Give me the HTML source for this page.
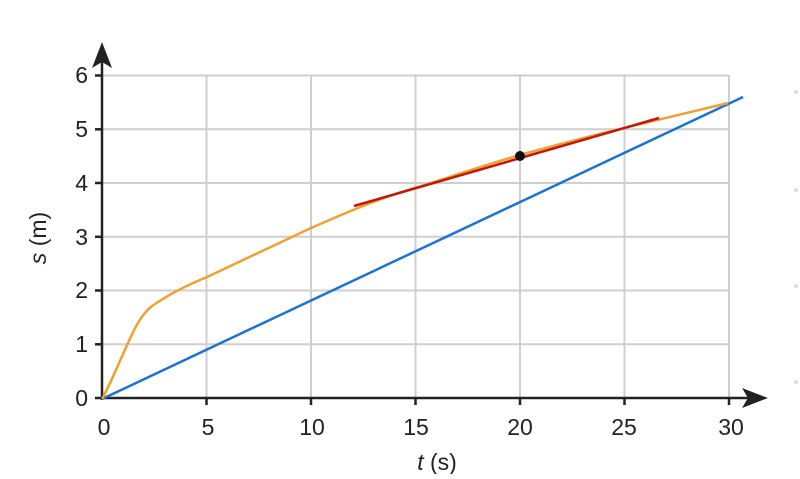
<!DOCTYPE html>
<html><head><style>body{margin:0;background:#fff}</style></head><body>
<svg width="800" height="474" xmlns="http://www.w3.org/2000/svg" font-family="Liberation Sans, sans-serif">
<rect width="800" height="474" fill="#fff"/>
<g stroke="#cfcfcf" stroke-width="2">
<line x1="102" y1="75.5" x2="728" y2="75.5"/>
<line x1="102" y1="129.3" x2="728" y2="129.3"/>
<line x1="102" y1="183" x2="728" y2="183"/>
<line x1="102" y1="236.8" x2="728" y2="236.8"/>
<line x1="102" y1="290.5" x2="728" y2="290.5"/>
<line x1="102" y1="344.3" x2="728" y2="344.3"/>
<line x1="206.5" y1="75" x2="206.5" y2="399"/>
<line x1="311" y1="75" x2="311" y2="399"/>
<line x1="415.5" y1="75" x2="415.5" y2="399"/>
<line x1="520" y1="75" x2="520" y2="399"/>
<line x1="624.5" y1="75" x2="624.5" y2="399"/>
<line x1="729" y1="75" x2="729" y2="399"/>
</g>
<g stroke="#222" stroke-width="2.5">
<line x1="102" y1="60" x2="102" y2="400"/>
<line x1="101" y1="398" x2="755" y2="398"/>
<line x1="95" y1="75.5" x2="102" y2="75.5"/><line x1="95" y1="129.3" x2="102" y2="129.3"/><line x1="95" y1="183" x2="102" y2="183"/><line x1="95" y1="236.8" x2="102" y2="236.8"/><line x1="95" y1="290.5" x2="102" y2="290.5"/><line x1="95" y1="344.3" x2="102" y2="344.3"/><line x1="95" y1="398" x2="102" y2="398"/>
<line x1="206.5" y1="398" x2="206.5" y2="405"/><line x1="311" y1="398" x2="311" y2="405"/><line x1="415.5" y1="398" x2="415.5" y2="405"/><line x1="520" y1="398" x2="520" y2="405"/><line x1="624.5" y1="398" x2="624.5" y2="405"/><line x1="729" y1="398" x2="729" y2="405"/>
</g>
<polygon points="102,42 92,68 102,62 112,68" fill="#222"/>
<polygon points="768,398 742,388 748,398 742,408" fill="#222"/>
<g font-size="23" fill="#222" text-anchor="end">
<text x="88" y="83">6</text><text x="88" y="137">5</text><text x="88" y="191">4</text><text x="88" y="245">3</text><text x="88" y="298">2</text><text x="88" y="352">1</text><text x="88" y="406">0</text>
</g>
<g font-size="23" fill="#222" text-anchor="middle">
<text x="104" y="435">0</text><text x="208" y="435">5</text><text x="312" y="435">10</text><text x="416" y="435">15</text><text x="520" y="435">20</text><text x="624" y="435">25</text><text x="731" y="435">30</text>
<text x="437" y="470"><tspan font-style="italic">t</tspan> (s)</text>
<text transform="translate(46,238) rotate(-90)"><tspan font-style="italic">s</tspan> (m)</text>
</g>
<line x1="102" y1="399" x2="743" y2="97" stroke="#1a73d0" stroke-width="2.5"/>
<path d="M102,399 C110,385 120,360 128,343 C136,325 142,314 152,306 C165,297 185,286 207,277 L311,228 C350,211 380,198 415,188 C450,177 485,165 520,155 C560,144 590,136 624,128 L728,103" fill="none" stroke="#f0a030" stroke-width="2.5"/>
<line x1="354" y1="206" x2="659" y2="118" stroke="#c0180c" stroke-width="2.5"/>
<circle cx="520" cy="156" r="5" fill="#111"/>
<g fill="#ddd"><circle cx="796" cy="92" r="2"/><circle cx="796" cy="190" r="2"/><circle cx="796" cy="286" r="2"/><circle cx="796" cy="382" r="2"/></g>
</svg>
</body></html>
